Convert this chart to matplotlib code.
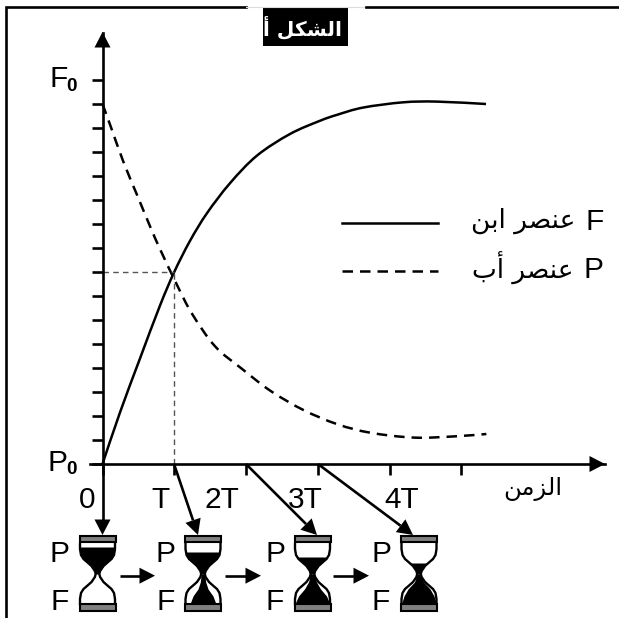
import numpy as np
import matplotlib
matplotlib.use("Agg")
import matplotlib.pyplot as plt
from matplotlib.patches import Polygon, Rectangle, PathPatch
from matplotlib.path import Path

W, H = 619, 618
DPI = 100

# --- data (time in half-lives T, amount in tick units) ---
t_child = [0, 0.244, 0.523, 0.801, 1.0, 1.22, 1.456, 1.777, 2.153, 2.613, 3.03, 3.27, 3.63, 4.19, 4.66, 5.345]
v_child = [0, 2.15, 4.4, 6.6, 8.0, 9.3, 10.45, 11.7, 12.85, 13.75, 14.3, 14.55, 14.85, 15.07, 15.1, 15.0]
t_parent = [0, 0.11, 0.29, 0.49, 0.67, 0.81, 1.04, 1.25, 1.57, 1.95, 2.34, 2.8, 3.28, 3.74, 4.34, 4.9, 5.35]
v_parent = [15.0, 14.1, 12.6, 11.15, 9.85, 8.9, 7.45, 6.25, 4.9, 3.95, 3.05, 2.25, 1.65, 1.3, 1.1, 1.15, 1.25]
x_ticks = [0, 1, 2, 3, 4, 5]
y_ticks = list(range(0, 17))
half_life_t = 1
half_life_v = 8
x_tick_labels = ["0", "T", "2T", "3T", "4T"]

# hourglass states: top sand level, and bottom pile half-width profile
sand_top = [-27, -22, -17, -11]
pile_knots = [0, 8, 15, 22, 30]
pile_1 = [0, 0, 0, 0, 0]
pile_2 = [1.8, 2.7, 5, 10, 13]
pile_3 = [1.8, 4, 8, 14, 17.5]
pile_4 = [1.8, 4.5, 11, 15, 17.5]

LATIN = "Liberation Sans"
ARABIC = "DejaVu Sans"
LW = 1.9


def vis(s):
    return s[::-1]


TITLE = vis("\ufe8d\ufedf\ufeb8\ufedc\ufede \ufe83")
CHILD = vis("\ufecb\ufee8\ufebc\ufeae \ufe8d\ufe91\ufee6")
PARENT = vis("\ufecb\ufee8\ufebc\ufeae \ufe83\ufe8f")
TIME = vis("\ufe8d\ufedf\ufeb0\ufee3\ufee6")

DASH = (0, (4.2, 2.8))

fig = plt.figure(figsize=(W / DPI, H / DPI), dpi=DPI)

# overlay in pixel coordinates for annotation furniture
ov = fig.add_axes([0, 0, 1, 1])
ov.set_xlim(0, W)
ov.set_ylim(H, 0)
ov.axis("off")

# main chart axes: t=0 at px 102, v=0 at px 464
x0, dx = 102.5, 71.75
y0, dy = 464.0, 24.0
x_right, y_top = 605.0, 33.0
ax = fig.add_axes([x0 / W, (H - y0) / H, (x_right - x0) / W, (y0 - y_top) / H])
ax.set_xlim(0, (x_right - x0) / dx)
ax.set_ylim(0, (y0 - y_top) / dy)
ax.patch.set_alpha(0)
for s in ("top", "right"):
    ax.spines[s].set_visible(False)
for s in ("left", "bottom"):
    ax.spines[s].set_linewidth(LW)
ax.set_xticks(x_ticks)
ax.set_yticks(y_ticks)
ax.set_xticklabels([])
ax.set_yticklabels([])
ax.tick_params(axis="both", direction="out", length=8, width=LW)


def smooth_path(xs, ys):
    """Cubic Bezier path through the read points (Catmull-Rom handles)."""
    p = np.column_stack([xs, ys]).astype(float)
    verts = [p[0]]
    codes = [Path.MOVETO]
    for i in range(len(p) - 1):
        a = p[max(i - 1, 0)]
        b = p[i]
        c = p[i + 1]
        d = p[min(i + 2, len(p) - 1)]
        verts += [b + (c - a) / 6, c - (d - b) / 6, c]
        codes += [Path.CURVE4] * 3
    return Path(verts, codes)


# curves
ax.add_patch(PathPatch(smooth_path(t_child, v_child), fc="none", ec="black", lw=1.8,
                       clip_on=False, capstyle="butt"))
ax.add_patch(PathPatch(smooth_path(t_parent, v_parent), fc="none", ec="black", lw=1.8,
                       ls=DASH, clip_on=False, capstyle="butt"))
ax.plot([0, half_life_t], [half_life_v, half_life_v], color="#555555", lw=1.0, ls=(0, (4, 3)))
ax.plot([half_life_t, half_life_t], [0, half_life_v], color="#555555", lw=1.0, ls=(0, (4, 3)))


def arrow(x1, y1, x2, y2, hl=15.5, hw=8.0, lw=LW):
    d = np.array([x2 - x1, y2 - y1], float)
    d /= np.hypot(*d)
    n = np.array([-d[1], d[0]])
    tip = np.array([x2, y2])
    base = tip - d * hl
    ov.plot([x1, base[0]], [y1, base[1]], color="black", lw=lw, solid_capstyle="butt", zorder=9)
    ov.add_patch(Polygon([tip, base + n * hw, base - n * hw], closed=True, fc="black", ec="none", zorder=9))


# axis arrows
arrow(x0, 48, x0, 32)
arrow(590, y0, 605, y0)
ov.plot([90, x0], [y0, y0], color="black", lw=LW)

# frame
ov.plot([6, 6, 246], [H, 7, 7], color="black", lw=LW, solid_joinstyle="miter")
ov.plot([246, 366], [6.5, 6.5], color="#dddddd", lw=0.8)
ov.plot([366, W], [7, 7], color="black", lw=LW)

# title
ov.add_patch(Rectangle((263, 8), 85, 38, fc="black", ec="none"))
ov.text(302.5, 27.5, TITLE, color="white", fontsize=14.5, fontweight="bold", family=ARABIC, ha="center", va="center")

# labels
txt = dict(family=LATIN, fontsize=21.5, color="black", va="center_baseline")
ov.text(49, 76, "F", ha="left", **txt)
ov.text(66, 91, "0", family=LATIN, fontsize=13.7, fontweight="bold", ha="left", va="baseline")
ov.text(47, 460, "P", ha="left", **txt)
ov.text(66, 474, "0", family=LATIN, fontsize=13.7, fontweight="bold", ha="left", va="baseline")
for lab, px in zip(x_tick_labels, [87, 160, 222, 305, 402]):
    ov.text(px, 497, lab, ha="center", **txt)
ov.text(533, 489, TIME, family=ARABIC, fontsize=17.5, ha="center", va="center")

# legend
ov.plot([342, 438], [223, 223], color="black", lw=1.8)
ov.plot([342, 438], [271, 271], color="black", lw=1.8, ls=DASH, dash_capstyle="butt")
ov.text(604, 219, "F", ha="right", **txt)
ov.text(604, 267, "P", ha="right", **txt)
ov.text(575, 221, CHILD, family=ARABIC, fontsize=19, ha="right", va="center")
ov.text(574, 268, PARENT, family=ARABIC, fontsize=19, ha="right", va="center")

# hourglasses
prof_y = np.array([0, 3, 8, 12, 15, 19, 25, 30])
prof_w = np.array([1.8, 2.6, 6, 10.5, 14, 16.5, 17.5, 17.5])
centers = [97.5, 203, 312.5, 419]
neck = 574.0


def glass_w(d):
    return np.interp(np.abs(d), prof_y, prof_w)


def hourglass(cx, level, pile):
    yy = np.linspace(-30, 30, 121)
    ww = glass_w(yy)
    ov.fill_betweenx(neck + yy, cx - ww, cx + ww, color="white", zorder=5, lw=0)
    ys = np.linspace(level, 0, 60)
    ov.fill_betweenx(neck + ys, cx - glass_w(ys), cx + glass_w(ys), color="black", zorder=6, lw=0)
    if max(pile) > 0:
        yp = np.linspace(0, 30, 60)
        hwp = np.minimum(np.interp(yp, pile_knots, pile), glass_w(yp))
        ov.fill_betweenx(neck + yp, cx - hwp, cx + hwp, color="black", zorder=6, lw=0)
    ov.plot(cx - ww, neck + yy, color="black", lw=1.7, zorder=7)
    ov.plot(cx + ww, neck + yy, color="black", lw=1.7, zorder=7)
    for top in (neck - 38.5, neck + 30):
        ov.add_patch(Rectangle((cx - 18, top), 36, 6.5, fc="#808080", ec="black", lw=1.5, zorder=8))


for cx, lv, pile in zip(centers, sand_top, [pile_1, pile_2, pile_3, pile_4]):
    hourglass(cx, lv, pile)

for px in [60, 166, 275, 381]:
    ov.text(px, 551, "P", ha="center", **txt)
    ov.text(px, 599, "F", ha="center", **txt)

# arrows between hourglasses
for a, b in [(120, 155), (225, 261), (333, 369)]:
    arrow(a, 575.7, b, 575.7)

# arrows down from the time axis
arrow(x0, y0, x0, 535)
arrow(174, y0, 198, 535)
arrow(246, y0, 317, 535)
arrow(318, y0, 413, 535)

fig.savefig("out.png", dpi=DPI)
